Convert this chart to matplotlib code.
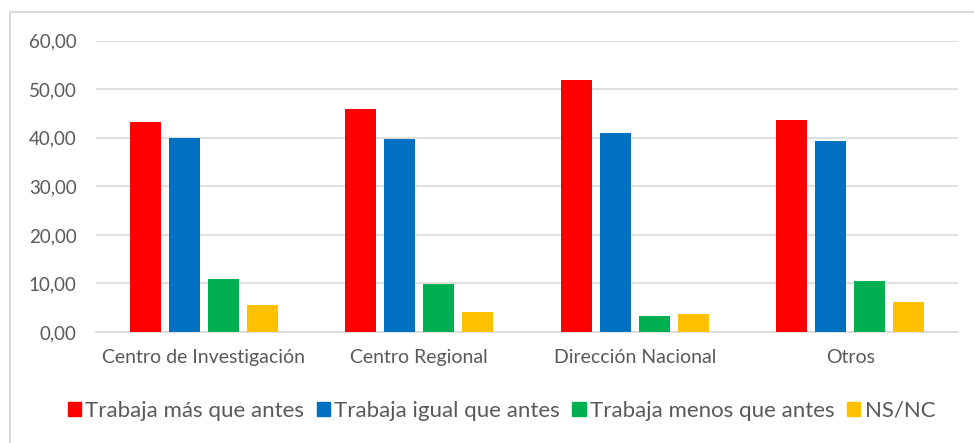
import matplotlib
matplotlib.use("Agg")
import matplotlib.pyplot as plt
import numpy as np
from matplotlib.patches import Rectangle
from matplotlib.lines import Line2D

categories = ["Centro de Investigación", "Centro Regional", "Dirección Nacional", "Otros"]
series_names = ["Trabaja más que antes", "Trabaja igual que antes", "Trabaja menos que antes", "NS/NC"]
mas = [43.2, 45.9, 51.9, 43.7]
igual = [40.0, 39.7, 40.9, 39.4]
menos = [10.9, 9.9, 3.2, 10.5]
nsnc = [5.5, 4.2, 3.8, 6.1]
yticks = [0, 10, 20, 30, 40, 50, 60]
colors = ["#FF0000", "#0070C0", "#00B050", "#FFC000"]

plt.rcParams['font.family'] = ['Lato', 'DejaVu Sans']
txt = "#595959"

fig = plt.figure(figsize=(9.74, 4.43), dpi=100)
ax = fig.add_axes([0.0986, 0.2506, 0.8850, 0.6574])

x = np.arange(len(categories))
w = 0.144
step = 0.181
for i, (vals, c) in enumerate(zip([mas, igual, menos, nsnc], colors)):
    ax.bar(x + (i - 1.5) * step, vals, width=w, color=c, zorder=3, label=series_names[i])

ax.set_xlim(-0.5, 3.5)
ax.set_ylim(0, 60)
ax.set_yticks(yticks)
ax.set_yticklabels([f"{v:.2f}".replace(".", ",") for v in yticks], color=txt, fontsize=13.5)
ax.set_xticks(x)
ax.set_xticklabels(categories, color=txt, fontsize=14)
ax.tick_params(axis='y', length=0, pad=14)
ax.tick_params(axis='x', length=0, pad=12)
ax.grid(axis='y', color='#D9D9D9', linewidth=1.2, zorder=0)
for s in ['top', 'right', 'left']:
    ax.spines[s].set_visible(False)
ax.spines['bottom'].set_color('#D9D9D9')
ax.spines['bottom'].set_linewidth(1.2)

handles = [Rectangle((0, 0), 1, 1, color=c) for c in colors]
leg = fig.legend(handles, series_names, loc='center', bbox_to_anchor=(0.515, 0.073), ncol=4,
                 frameon=False, fontsize=16, handlelength=0.6, handleheight=0.6,
                 handletextpad=0.2, columnspacing=0.55)
for t in leg.get_texts():
    t.set_color(txt)

# outer chart border (top and left)
fig.add_artist(Line2D([10/974, 10/974], [0, 1 - 12/443], color='#D9D9D9', linewidth=1.5, transform=fig.transFigure))
fig.add_artist(Line2D([10/974, 1], [1 - 12/443, 1 - 12/443], color='#D9D9D9', linewidth=1.5, transform=fig.transFigure))

fig.savefig("out.png", dpi=100)
